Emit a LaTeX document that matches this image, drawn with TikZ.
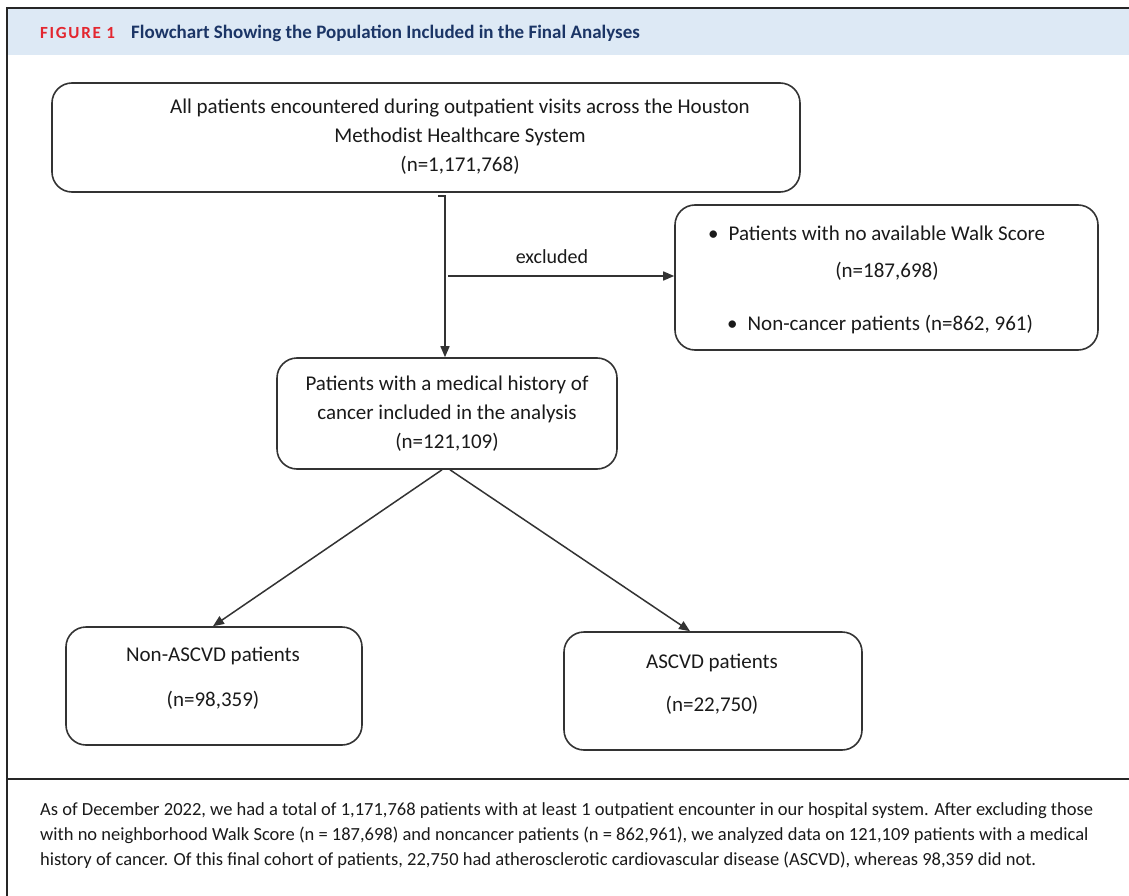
\documentclass[tikz,border=0pt]{standalone}
\usepackage{fontspec}
\setmainfont{Carlito}
\usetikzlibrary{arrows.meta}
\definecolor{bandblue}{HTML}{DDE9F5}
\definecolor{navy}{HTML}{1B3566}
\definecolor{figred}{HTML}{E3262F}
\definecolor{lineclr}{HTML}{333333}
\definecolor{txtclr}{HTML}{1A1A1A}
\tikzset{
  flowbox/.style={draw=lineclr, line width=1.6pt, rounded corners=20pt, rectangle, inner sep=0pt},
  boxtext/.style={font=\fontsize{21}{29}\selectfont, text=txtclr, align=center, inner sep=0pt},
  captext/.style={font=\fontsize{18.5}{25}\selectfont, text=txtclr, anchor=base west, inner sep=0pt},
  arr/.style={draw=lineclr, line width=1.5pt, -{Triangle[length=11pt,width=9pt]}},
  frameline/.style={draw=black!85, line width=1.6pt}
}
\begin{document}
\begin{tikzpicture}[x=1pt,y=-1pt]
\useasboundingbox (0,0) rectangle (1129,896);
\fill[white] (0,0) rectangle (1129,896);
% header band and frame
\fill[bandblue] (7,9) rectangle (1129,55);
\draw[frameline, line width=2.6pt] (6,8) -- (1129,8);
\draw[frameline] (7,8) -- (7,896);
\draw[frameline] (7,779) -- (1129,779);
\node[anchor=base west, inner sep=0pt, text=figred, font=\fontsize{17}{17}\selectfont\bfseries\addfontfeature{LetterSpace=10}] (figlabel) at (40,39) {FIGURE 1};
\node[anchor=base west, inner sep=0pt, text=navy, font=\fontsize{19}{19}\selectfont\bfseries] (figtitle) at (131,39) {Flowchart Showing the Population Included in the Final Analyses};

% boxes
\node[flowbox, minimum width=748pt, minimum height=109pt] (boxA) at (426,137.5) {};
\node[boxtext] (boxAtext) at (460,137) {All patients encountered during outpatient visits across the Houston\\Methodist Healthcare System\\(n=1,171,768)};

\node[flowbox, minimum width=423pt, minimum height=145pt] (boxB) at (886.5,277.5) {};
\node[boxtext, anchor=west] (boxBtext1) at (708,233) {\textbullet\hspace{10pt}Patients with no available Walk Score};
\node[boxtext] (boxBtext2) at (887,271) {(n=187,698)};
\node[boxtext, anchor=west] (boxBtext3) at (727,325) {\textbullet\hspace{10pt}Non-cancer patients (n=862, 961)};

\node[flowbox, minimum width=340pt, minimum height=111pt] (boxC) at (447,413.5) {};
\node[boxtext] (boxCtext) at (447,414) {Patients with a medical history of\\cancer included in the analysis\\(n=121,109)};

\node[flowbox, minimum width=296pt, minimum height=118pt] (boxD) at (214,686) {};
\node[boxtext, font=\fontsize{21}{45}\selectfont] (boxDtext) at (213,678) {Non-ASCVD patients\\(n=98,359)};

\node[flowbox, minimum width=298pt, minimum height=118pt] (boxE) at (713,691) {};
\node[boxtext, font=\fontsize{21}{43}\selectfont] (boxEtext) at (712,684) {ASCVD patients\\(n=22,750)};

% connectors
\coordinate (tickL) at (438,196);
\coordinate (vtop) at (445,196);
\draw[arr] (tickL) -- (vtop) -- (vtop |- boxC.north);
\coordinate (hstart) at (448,276);
\draw[arr] (hstart) -- (hstart -| boxB.west);
\node[boxtext, font=\fontsize{20}{24}\selectfont] (exlabel) at (552,257) {excluded};
\draw[arr] ([xshift=-5pt]boxC.south) -- ([xshift=-1pt]boxD.north);
\draw[arr] ([xshift=3pt]boxC.south) -- ([xshift=-23pt]boxE.north);

% caption
\node[captext] (cap1) at (40,815) {As of December 2022, we had a total of 1,171,768 patients with at least 1 outpatient encounter in our hospital system. After excluding those};
\node[captext] (cap2) at (40,840) {with no neighborhood Walk Score (n = 187,698) and noncancer patients (n = 862,961), we analyzed data on 121,109 patients with a medical};
\node[captext] (cap3) at (40,865) {history of cancer. Of this final cohort of patients, 22,750 had atherosclerotic cardiovascular disease (ASCVD), whereas 98,359 did not.};
\end{tikzpicture}
\end{document}
